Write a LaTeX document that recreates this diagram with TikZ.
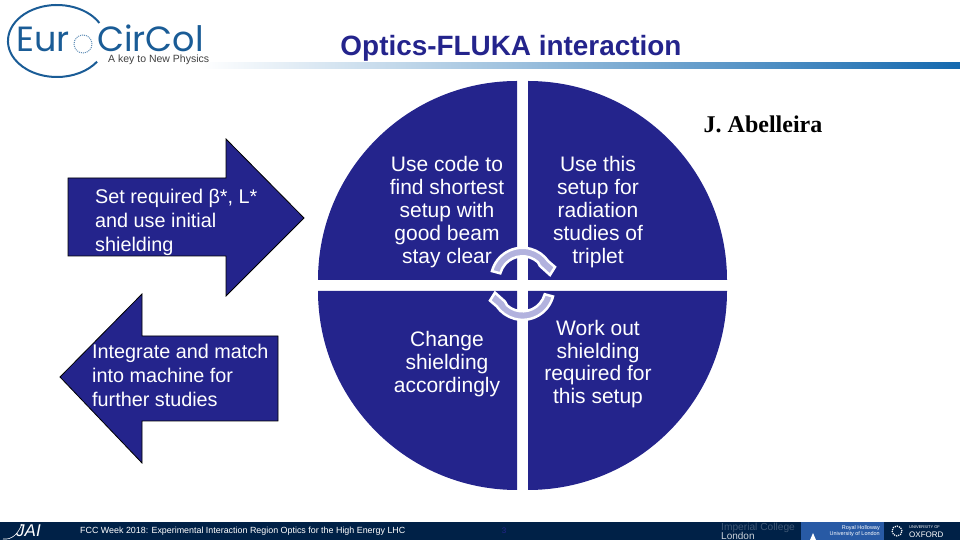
\documentclass[tikz,border=0pt]{standalone}
\usepackage{fontspec}
\setmainfont{Liberation Sans}
\newfontfamily\serifbold{Liberation Serif}
\newfontfamily\logofont{Poppins}
\usepackage{xcolor}
\usetikzlibrary{arrows.meta,positioning,calc}
\definecolor{quadblue}{RGB}{36,36,140}
\definecolor{footnavy}{RGB}{0,33,71}
\definecolor{logoblue}{RGB}{26,92,150}
\definecolor{loopgrey}{RGB}{178,178,222}
\definecolor{barblue}{RGB}{20,105,175}
\definecolor{hollowblue}{RGB}{40,90,165}
\tikzset{
quadtext/.style={align=center,text=white,font=\fontsize{21}{22.8}\selectfont},
arrowtext/.style={align=left,text=white,anchor=west,font=\fontsize{19.8}{24}\selectfont},
quadfill/.style={fill=quadblue,draw=none},
bigarrow/.style={fill=quadblue,draw=black,line width=0.8pt},
looparrow/.style={fill=loopgrey,draw=white,line width=2.5pt,line join=miter},
foottext/.style={text=white,anchor=west,inner sep=0pt},
logotext/.style={anchor=base west,inner sep=0pt,text=logoblue,font=\logofont\fontsize{35}{35}\selectfont},
}
\begin{document}
\begin{tikzpicture}[x=1pt,y=1pt]
\useasboundingbox (0,0) rectangle (960,540);
\fill[left color=white,right color=barblue] (200,471) rectangle (960,477);
\draw[logoblue,line width=2pt](99.4,517) arc[start angle=30,end angle=325,x radius=49,y radius=36];
\node[logotext] (logoeuro) at (16,488) {Eur};
\draw[logoblue!70,densely dotted,line width=1pt] (83,496) circle[radius=9];
\node[logotext] (logocir) at (97,488) {CirCol};
\node[anchor=base west,inner sep=0pt,text=black!75,font=\fontsize{10.5}{11}\selectfont] (logokey) at (108,477) {A key to New Physics};
\node[font=\bfseries\fontsize{27.9}{30}\selectfont,text=quadblue] (title) at (511,492) {Optics-FLUKA interaction};
\node[font=\serifbold\bfseries\fontsize{24}{26}\selectfont,text=black] (author) at (763,416) {J. Abelleira};
\draw[bigarrow](68,362)--(226,362)--(226,401)--(304,322)--(226,244)--(226,284)--(68,284)--cycle;
\draw[bigarrow](278,204)--(142,204)--(142,246)--(60,163)--(142,77)--(142,119)--(278,119)--cycle;
\node[arrowtext,inner sep=0pt] (setreq) at (95,318) {Set required β*, L*\\and use initial\\shielding};
\node[arrowtext,inner sep=0pt] (integrate) at (92,165) {Integrate and match\\into machine for\\further studies};
\fill[quadfill](517,260)--(318,260) arc[start angle=180,end angle=90,radius=199]--cycle;
\fill[quadfill](528,260)--(528,459) arc[start angle=90,end angle=0,radius=199]--cycle;
\fill[quadfill](517,249)--(517,50) arc[start angle=270,end angle=180,radius=199]--cycle;
\fill[quadfill](528,249)--(727,249) arc[start angle=0,end angle=-90,radius=199]--cycle;
\node[quadtext] (usecode) at (447,328) {Use code to\\find shortest\\setup with\\good beam\\stay clear};
\node[quadtext] (usesetup) at (598,328) {Use this\\setup for\\radiation\\studies of\\triplet};
\node[quadtext] (change) at (447,176) {Change\\shielding\\accordingly};
\node[quadtext] (workout) at (598,176) {Work out\\shielding\\required for\\this setup};
\draw[looparrow](492,268.9) arc[start angle=165,end angle=35,radius=31.5]--(555,273)--(550,265)--(540,274)--(537.9,277.8) arc[start angle=48,end angle=165,radius=23]--cycle;
\draw[looparrow,rotate around={180:(522.5,256.2)}](492,268.9) arc[start angle=165,end angle=35,radius=31.5]--(555,273)--(550,265)--(540,274)--(537.9,277.8) arc[start angle=48,end angle=165,radius=23]--cycle;
\fill[footnavy](0,0) rectangle (960,18);
\node[foottext,font=\itshape\fontsize{17}{17}\selectfont] (jailogo) at (16,9.5) {JAI};
\draw[white,line width=0.6pt](3,1) .. controls (12,0) and (18,6) .. (22,16);
\node[foottext,font=\fontsize{8.9}{9}\selectfont] (footer) at (80,8.5) {FCC Week 2018: Experimental Interaction Region Optics for the High Energy LHC};
\node[text=quadblue,font=\fontsize{8}{8}\selectfont,inner sep=0pt] (pagenum) at (504,9) {3};
\node[foottext,text=footnavy!75!white,font=\fontsize{10.2}{10}\selectfont] (imperial) at (721,12.5) {Imperial College};
\node[foottext,text=white!80!footnavy,font=\fontsize{10}{10}\selectfont] (london) at (721,4.5) {London};
\fill[hollowblue](801,0) rectangle (884,18);
\node[anchor=east,inner sep=0pt,text=white,font=\fontsize{5.5}{6}\selectfont,align=right] (royal) at (880,9) {Royal Holloway\\University of London};
\fill[white](810,0)--(813,7)--(816,0)--cycle;
\draw[white,densely dotted,line width=1.2pt](897,9) circle[radius=5];
\node[foottext,text=white,font=\fontsize{4}{5}\selectfont] (univ) at (909,13) {UNIVERSITY OF};
\node[foottext,text=white,font=\fontsize{8}{8}\selectfont] (oxford) at (909,5.5) {OXFORD};
\end{tikzpicture}
\end{document}
